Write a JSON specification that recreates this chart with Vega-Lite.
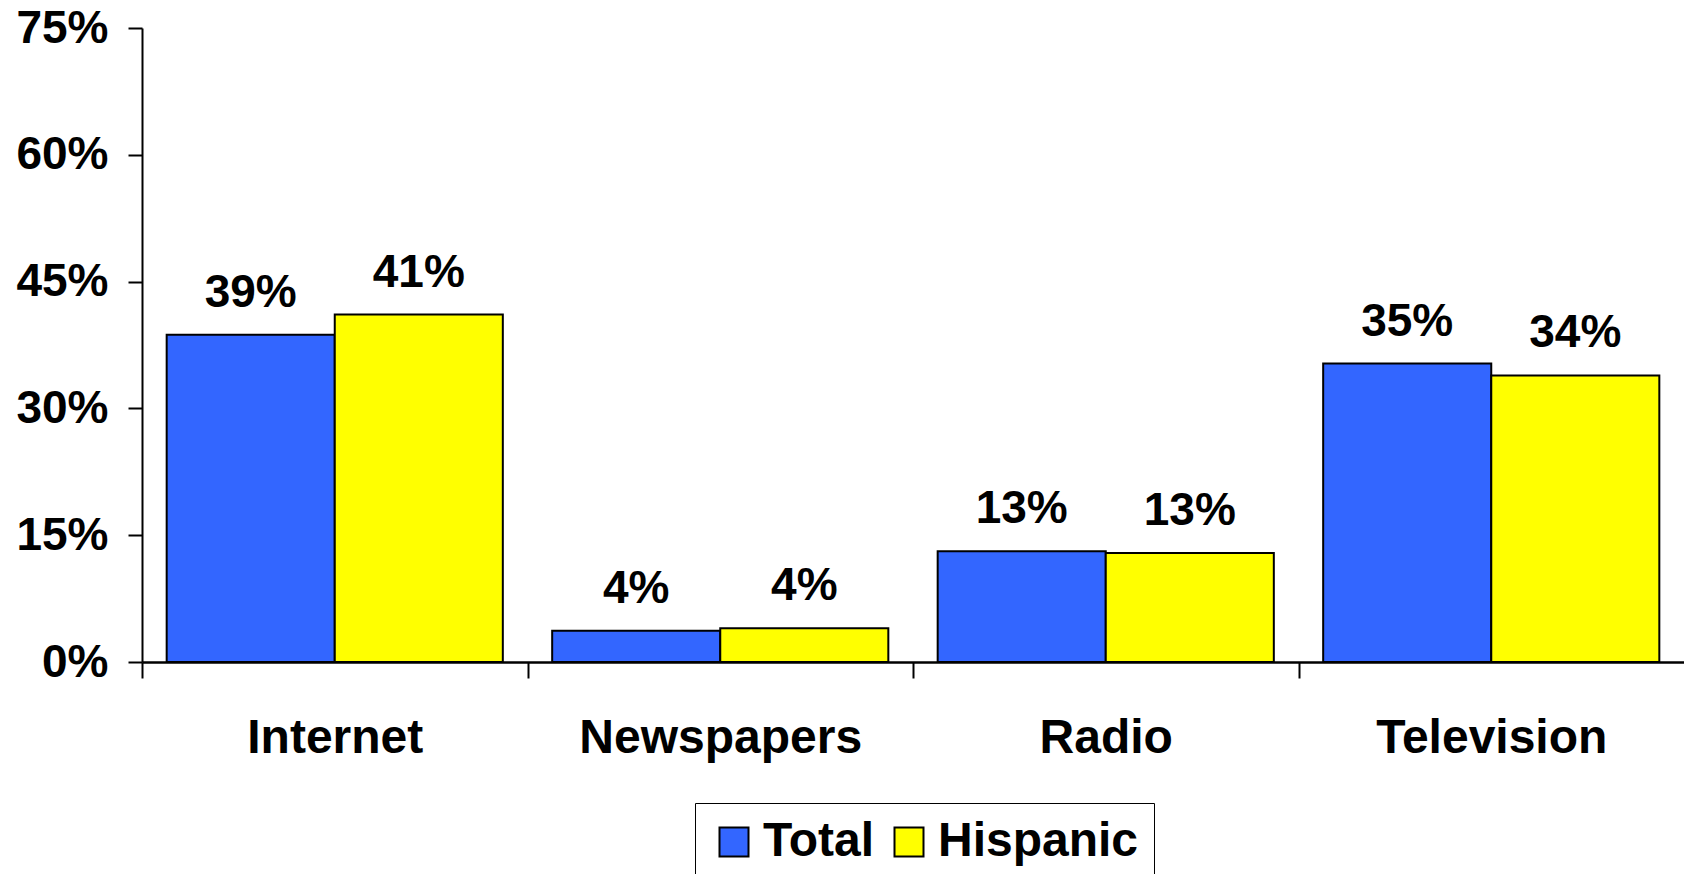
{
  "$schema": "https://vega.github.io/schema/vega-lite/v6.json",
  "width": 1542,
  "height": 634,
  "autosize": {"type": "none"},
  "padding": {"left": 142, "top": 28, "right": 0, "bottom": 212},
  "background": "white",
  "config": {
    "view": {"stroke": null},
    "font": "Liberation Sans"
  },
  "data": {
    "values": [
      {"medium": "Internet", "group": "Total", "value": 0.387},
      {"medium": "Internet", "group": "Hispanic", "value": 0.411},
      {"medium": "Newspapers", "group": "Total", "value": 0.037},
      {"medium": "Newspapers", "group": "Hispanic", "value": 0.040},
      {"medium": "Radio", "group": "Total", "value": 0.131},
      {"medium": "Radio", "group": "Hispanic", "value": 0.129},
      {"medium": "Television", "group": "Total", "value": 0.353},
      {"medium": "Television", "group": "Hispanic", "value": 0.339}
    ]
  },
  "encoding": {
    "x": {
      "field": "medium",
      "type": "nominal",
      "sort": ["Internet", "Newspapers", "Radio", "Television"],
      "scale": {"paddingInner": 0.128, "paddingOuter": 0.064},
      "axis": {
        "title": null,
        "labelAngle": 0,
        "labelFont": "Liberation Sans",
        "labelFontWeight": "bold",
        "labelFontSize": 48,
        "labelColor": "black",
        "labelLimit": 600,
        "labelPadding": 36,
        "tickOffset": -192.75,
        "labelOffset": 192.75,
        "tickSize": 16,
        "tickColor": "black",
        "tickWidth": 2,
        "domainColor": "black",
        "domainWidth": 2.5
      }
    },
    "xOffset": {
      "field": "group",
      "type": "nominal",
      "sort": ["Total", "Hispanic"],
      "scale": {"paddingInner": 0, "paddingOuter": 0}
    },
    "y": {
      "field": "value",
      "type": "quantitative",
      "scale": {"domain": [0, 0.75], "nice": false},
      "axis": {
        "title": null,
        "values": [0, 0.15, 0.3, 0.45, 0.6, 0.75],
        "format": ".0%",
        "grid": false,
        "labelFont": "Liberation Sans",
        "labelFontWeight": "bold",
        "labelFontSize": 46,
        "labelColor": "black",
        "labelPadding": 20,
        "tickSize": 14,
        "tickColor": "black",
        "tickWidth": 2,
        "domainColor": "black",
        "domainWidth": 2
      }
    }
  },
  "layer": [
    {
      "mark": {"type": "bar", "stroke": "black", "strokeWidth": 2},
      "encoding": {
        "color": {
          "field": "group",
          "type": "nominal",
          "scale": {"domain": ["Total", "Hispanic"], "range": ["#3366FF", "#FFFF00"]},
          "legend": {
            "title": null,
            "orient": "none",
            "direction": "horizontal",
            "legendX": 553,
            "legendY": 775,
            "strokeColor": "black",
            "padding": 15,
            "symbolType": "square",
            "symbolSize": 841,
            "symbolStrokeColor": "black",
            "symbolStrokeWidth": 2,
            "labelFont": "Liberation Sans",
            "labelFontWeight": "bold",
            "labelFontSize": 48,
            "labelColor": "black",
            "labelLimit": 400,
            "columnPadding": 10,
            "labelOffset": 5
          }
        }
      }
    },
    {
      "mark": {
        "type": "text",
        "baseline": "alphabetic",
        "dy": -28,
        "font": "Liberation Sans",
        "fontWeight": "bold",
        "fontSize": 46,
        "color": "black"
      },
      "encoding": {
        "text": {"field": "value", "type": "quantitative", "format": ".0%"}
      }
    }
  ]
}
